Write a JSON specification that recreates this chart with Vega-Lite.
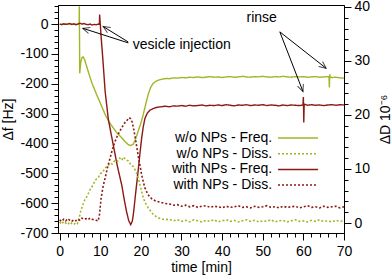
{
"$schema":"https://vega.github.io/schema/vega-lite/v6.json",
"width":286,"height":228,
"autosize":{"type":"none"},
"padding":{"left":58,"top":5,"right":48,"bottom":44},
"config":{
 "font":"Liberation Sans",
 "view":{"stroke":"black","strokeWidth":1},
 "axis":{"labelFont":"Liberation Sans","labelFontSize":14,"titleFont":"Liberation Sans","titleFontSize":14,"titleFontWeight":"normal","labelColor":"black","titleColor":"black","domainColor":"black","tickColor":"black","grid":false,"labelOverlap":false,"labelFlush":false},
 "legend":{"orient":"none","legendX":233,"legendY":126,"title":null,"labelAlign":"right","labelOffset":-32.75,"symbolType":"M-34.5,0M-5,0L5,0","symbolSize":64,"symbolStrokeWidth":1.5,"labelFontSize":14,"labelFont":"Liberation Sans","labelColor":"black","rowPadding":1.7,"padding":0,"labelLimit":0}
},
"datasets":{
"freq":[
{"t":0,"f":0,"s":"w/o NPs - Freq."},{"t":1,"f":-1,"s":"w/o NPs - Freq."},{"t":2,"f":1,"s":"w/o NPs - Freq."},{"t":3,"f":0,"s":"w/o NPs - Freq."},{"t":4,"f":-1,"s":"w/o NPs - Freq."},{"t":4.8,"f":0,"s":"w/o NPs - Freq."},{"t":4.85,"f":60,"s":"w/o NPs - Freq."},{"t":4.95,"f":-165,"s":"w/o NPs - Freq."},{"t":5.2,"f":-128,"s":"w/o NPs - Freq."},{"t":5.5,"f":-112,"s":"w/o NPs - Freq."},{"t":5.8,"f":-110,"s":"w/o NPs - Freq."},{"t":6.2,"f":-121,"s":"w/o NPs - Freq."},{"t":6.6,"f":-139,"s":"w/o NPs - Freq."},{"t":7.0,"f":-157,"s":"w/o NPs - Freq."},{"t":7.5,"f":-179,"s":"w/o NPs - Freq."},{"t":8.0,"f":-199,"s":"w/o NPs - Freq."},{"t":8.5,"f":-216,"s":"w/o NPs - Freq."},{"t":9.1,"f":-236,"s":"w/o NPs - Freq."},{"t":10.0,"f":-264,"s":"w/o NPs - Freq."},{"t":11.2,"f":-303,"s":"w/o NPs - Freq."},{"t":12.2,"f":-328,"s":"w/o NPs - Freq."},{"t":13.2,"f":-348,"s":"w/o NPs - Freq."},{"t":14.2,"f":-366,"s":"w/o NPs - Freq."},{"t":15.3,"f":-381,"s":"w/o NPs - Freq."},{"t":16.2,"f":-395,"s":"w/o NPs - Freq."},{"t":16.9,"f":-404,"s":"w/o NPs - Freq."},{"t":17.5,"f":-407,"s":"w/o NPs - Freq."},{"t":18.1,"f":-403,"s":"w/o NPs - Freq."},{"t":18.7,"f":-385,"s":"w/o NPs - Freq."},{"t":19.3,"f":-360,"s":"w/o NPs - Freq."},{"t":20.0,"f":-332,"s":"w/o NPs - Freq."},{"t":20.6,"f":-302,"s":"w/o NPs - Freq."},{"t":21.2,"f":-268,"s":"w/o NPs - Freq."},{"t":21.8,"f":-236,"s":"w/o NPs - Freq."},{"t":22.4,"f":-212,"s":"w/o NPs - Freq."},{"t":23.0,"f":-199,"s":"w/o NPs - Freq."},{"t":23.8,"f":-191,"s":"w/o NPs - Freq."},{"t":24.7,"f":-186,"s":"w/o NPs - Freq."},{"t":25.5,"f":-184,"s":"w/o NPs - Freq."},{"t":26.3,"f":-182,"s":"w/o NPs - Freq."},{"t":27,"f":-183,"s":"w/o NPs - Freq."},{"t":28,"f":-180,"s":"w/o NPs - Freq."},{"t":29,"f":-181,"s":"w/o NPs - Freq."},{"t":30,"f":-179,"s":"w/o NPs - Freq."},{"t":31,"f":-180,"s":"w/o NPs - Freq."},{"t":32,"f":-178,"s":"w/o NPs - Freq."},{"t":33,"f":-179,"s":"w/o NPs - Freq."},{"t":34,"f":-177,"s":"w/o NPs - Freq."},{"t":35,"f":-179,"s":"w/o NPs - Freq."},{"t":36,"f":-178,"s":"w/o NPs - Freq."},{"t":37,"f":-176,"s":"w/o NPs - Freq."},{"t":38,"f":-178,"s":"w/o NPs - Freq."},{"t":39,"f":-177,"s":"w/o NPs - Freq."},{"t":40,"f":-179,"s":"w/o NPs - Freq."},{"t":41,"f":-177,"s":"w/o NPs - Freq."},{"t":42,"f":-176,"s":"w/o NPs - Freq."},{"t":43,"f":-178,"s":"w/o NPs - Freq."},{"t":44,"f":-177,"s":"w/o NPs - Freq."},{"t":45,"f":-175,"s":"w/o NPs - Freq."},{"t":46,"f":-177,"s":"w/o NPs - Freq."},{"t":47,"f":-178,"s":"w/o NPs - Freq."},{"t":48,"f":-176,"s":"w/o NPs - Freq."},{"t":49,"f":-177,"s":"w/o NPs - Freq."},{"t":50,"f":-175,"s":"w/o NPs - Freq."},{"t":51,"f":-177,"s":"w/o NPs - Freq."},{"t":52,"f":-178,"s":"w/o NPs - Freq."},{"t":53,"f":-176,"s":"w/o NPs - Freq."},{"t":54,"f":-177,"s":"w/o NPs - Freq."},{"t":55,"f":-175,"s":"w/o NPs - Freq."},{"t":56,"f":-177,"s":"w/o NPs - Freq."},{"t":57,"f":-178,"s":"w/o NPs - Freq."},{"t":58,"f":-176,"s":"w/o NPs - Freq."},{"t":59,"f":-177,"s":"w/o NPs - Freq."},{"t":60,"f":-176,"s":"w/o NPs - Freq."},{"t":61,"f":-178,"s":"w/o NPs - Freq."},{"t":62,"f":-177,"s":"w/o NPs - Freq."},{"t":63,"f":-176,"s":"w/o NPs - Freq."},{"t":64,"f":-178,"s":"w/o NPs - Freq."},{"t":65,"f":-177,"s":"w/o NPs - Freq."},{"t":66,"f":-176,"s":"w/o NPs - Freq."},{"t":66.3,"f":-177,"s":"w/o NPs - Freq."},{"t":66.4,"f":-212,"s":"w/o NPs - Freq."},{"t":66.5,"f":-168,"s":"w/o NPs - Freq."},{"t":66.6,"f":-178,"s":"w/o NPs - Freq."},{"t":67,"f":-179,"s":"w/o NPs - Freq."},{"t":68,"f":-178,"s":"w/o NPs - Freq."},{"t":69,"f":-180,"s":"w/o NPs - Freq."},{"t":70,"f":-181,"s":"w/o NPs - Freq."},
{"t":0,"f":0,"s":"with NPs - Freq."},{"t":0.5,"f":-2,"s":"with NPs - Freq."},{"t":1,"f":1,"s":"with NPs - Freq."},{"t":1.5,"f":-1,"s":"with NPs - Freq."},{"t":2,"f":0,"s":"with NPs - Freq."},{"t":2.5,"f":2,"s":"with NPs - Freq."},{"t":3,"f":-1,"s":"with NPs - Freq."},{"t":3.5,"f":1,"s":"with NPs - Freq."},{"t":4,"f":-2,"s":"with NPs - Freq."},{"t":4.5,"f":0,"s":"with NPs - Freq."},{"t":5,"f":3,"s":"with NPs - Freq."},{"t":5.5,"f":0,"s":"with NPs - Freq."},{"t":6,"f":2,"s":"with NPs - Freq."},{"t":6.5,"f":-1,"s":"with NPs - Freq."},{"t":7,"f":-2,"s":"with NPs - Freq."},{"t":7.5,"f":0,"s":"with NPs - Freq."},{"t":8,"f":-3,"s":"with NPs - Freq."},{"t":8.5,"f":-1,"s":"with NPs - Freq."},{"t":9,"f":-2,"s":"with NPs - Freq."},{"t":9.5,"f":0,"s":"with NPs - Freq."},{"t":9.8,"f":-1,"s":"with NPs - Freq."},{"t":9.85,"f":32,"s":"with NPs - Freq."},{"t":10.2,"f":-40,"s":"with NPs - Freq."},{"t":10.6,"f":-110,"s":"with NPs - Freq."},{"t":11.2,"f":-225,"s":"with NPs - Freq."},{"t":12.0,"f":-320,"s":"with NPs - Freq."},{"t":13.2,"f":-405,"s":"with NPs - Freq."},{"t":14.2,"f":-475,"s":"with NPs - Freq."},{"t":15.3,"f":-540,"s":"with NPs - Freq."},{"t":16.0,"f":-595,"s":"with NPs - Freq."},{"t":16.5,"f":-630,"s":"with NPs - Freq."},{"t":17.0,"f":-658,"s":"with NPs - Freq."},{"t":17.5,"f":-672,"s":"with NPs - Freq."},{"t":17.9,"f":-660,"s":"with NPs - Freq."},{"t":18.2,"f":-632,"s":"with NPs - Freq."},{"t":18.7,"f":-568,"s":"with NPs - Freq."},{"t":19.3,"f":-495,"s":"with NPs - Freq."},{"t":19.8,"f":-430,"s":"with NPs - Freq."},{"t":20.2,"f":-381,"s":"with NPs - Freq."},{"t":20.6,"f":-343,"s":"with NPs - Freq."},{"t":21.0,"f":-316,"s":"with NPs - Freq."},{"t":21.6,"f":-298,"s":"with NPs - Freq."},{"t":22.2,"f":-289,"s":"with NPs - Freq."},{"t":23.0,"f":-283,"s":"with NPs - Freq."},{"t":23.9,"f":-279,"s":"with NPs - Freq."},{"t":25,"f":-277,"s":"with NPs - Freq."},{"t":26,"f":-275,"s":"with NPs - Freq."},{"t":27,"f":-277,"s":"with NPs - Freq."},{"t":28,"f":-274,"s":"with NPs - Freq."},{"t":29,"f":-275,"s":"with NPs - Freq."},{"t":30,"f":-273,"s":"with NPs - Freq."},{"t":31,"f":-275,"s":"with NPs - Freq."},{"t":32,"f":-272,"s":"with NPs - Freq."},{"t":33,"f":-274,"s":"with NPs - Freq."},{"t":34,"f":-273,"s":"with NPs - Freq."},{"t":35,"f":-271,"s":"with NPs - Freq."},{"t":36,"f":-274,"s":"with NPs - Freq."},{"t":37,"f":-272,"s":"with NPs - Freq."},{"t":38,"f":-273,"s":"with NPs - Freq."},{"t":39,"f":-271,"s":"with NPs - Freq."},{"t":40,"f":-273,"s":"with NPs - Freq."},{"t":41,"f":-270,"s":"with NPs - Freq."},{"t":42,"f":-272,"s":"with NPs - Freq."},{"t":43,"f":-274,"s":"with NPs - Freq."},{"t":44,"f":-271,"s":"with NPs - Freq."},{"t":45,"f":-272,"s":"with NPs - Freq."},{"t":46,"f":-270,"s":"with NPs - Freq."},{"t":47,"f":-273,"s":"with NPs - Freq."},{"t":48,"f":-271,"s":"with NPs - Freq."},{"t":49,"f":-272,"s":"with NPs - Freq."},{"t":50,"f":-270,"s":"with NPs - Freq."},{"t":51,"f":-273,"s":"with NPs - Freq."},{"t":52,"f":-271,"s":"with NPs - Freq."},{"t":53,"f":-272,"s":"with NPs - Freq."},{"t":54,"f":-274,"s":"with NPs - Freq."},{"t":55,"f":-271,"s":"with NPs - Freq."},{"t":56,"f":-273,"s":"with NPs - Freq."},{"t":57,"f":-271,"s":"with NPs - Freq."},{"t":58,"f":-272,"s":"with NPs - Freq."},{"t":59,"f":-273,"s":"with NPs - Freq."},{"t":59.9,"f":-271,"s":"with NPs - Freq."},{"t":60.0,"f":-244,"s":"with NPs - Freq."},{"t":60.1,"f":-330,"s":"with NPs - Freq."},{"t":60.2,"f":-268,"s":"with NPs - Freq."},{"t":61,"f":-272,"s":"with NPs - Freq."},{"t":62,"f":-270,"s":"with NPs - Freq."},{"t":63,"f":-272,"s":"with NPs - Freq."},{"t":64,"f":-271,"s":"with NPs - Freq."},{"t":65,"f":-273,"s":"with NPs - Freq."},{"t":66,"f":-271,"s":"with NPs - Freq."},{"t":67,"f":-270,"s":"with NPs - Freq."},{"t":68,"f":-272,"s":"with NPs - Freq."},{"t":69,"f":-270,"s":"with NPs - Freq."},{"t":70,"f":-271,"s":"with NPs - Freq."}
],
"diss":[
{"t":0,"D":0.2,"s":"w/o NPs - Diss."},{"t":0.5,"D":-0.2,"s":"w/o NPs - Diss."},{"t":1,"D":0.3,"s":"w/o NPs - Diss."},{"t":1.5,"D":0,"s":"w/o NPs - Diss."},{"t":2,"D":-0.3,"s":"w/o NPs - Diss."},{"t":2.5,"D":0.2,"s":"w/o NPs - Diss."},{"t":3,"D":-0.1,"s":"w/o NPs - Diss."},{"t":3.5,"D":-0.3,"s":"w/o NPs - Diss."},{"t":4,"D":0.1,"s":"w/o NPs - Diss."},{"t":4.4,"D":-0.1,"s":"w/o NPs - Diss."},{"t":4.8,"D":0.9,"s":"w/o NPs - Diss."},{"t":5.2,"D":2.2,"s":"w/o NPs - Diss."},{"t":5.6,"D":3.1,"s":"w/o NPs - Diss."},{"t":6.2,"D":4.3,"s":"w/o NPs - Diss."},{"t":6.8,"D":5.0,"s":"w/o NPs - Diss."},{"t":7.5,"D":6.2,"s":"w/o NPs - Diss."},{"t":8.2,"D":7.0,"s":"w/o NPs - Diss."},{"t":8.7,"D":7.8,"s":"w/o NPs - Diss."},{"t":9.1,"D":8.2,"s":"w/o NPs - Diss."},{"t":9.6,"D":8.5,"s":"w/o NPs - Diss."},{"t":10,"D":9.1,"s":"w/o NPs - Diss."},{"t":10.6,"D":9.4,"s":"w/o NPs - Diss."},{"t":11.2,"D":10.2,"s":"w/o NPs - Diss."},{"t":11.8,"D":10.5,"s":"w/o NPs - Diss."},{"t":12.4,"D":11.1,"s":"w/o NPs - Diss."},{"t":13.0,"D":10.9,"s":"w/o NPs - Diss."},{"t":13.6,"D":11.6,"s":"w/o NPs - Diss."},{"t":14.2,"D":11.4,"s":"w/o NPs - Diss."},{"t":14.8,"D":12.0,"s":"w/o NPs - Diss."},{"t":15.3,"D":11.6,"s":"w/o NPs - Diss."},{"t":15.7,"D":12.2,"s":"w/o NPs - Diss."},{"t":16.3,"D":11.7,"s":"w/o NPs - Diss."},{"t":16.9,"D":11.5,"s":"w/o NPs - Diss."},{"t":17.5,"D":10.8,"s":"w/o NPs - Diss."},{"t":18.1,"D":10.5,"s":"w/o NPs - Diss."},{"t":18.6,"D":9.8,"s":"w/o NPs - Diss."},{"t":19.0,"D":9.1,"s":"w/o NPs - Diss."},{"t":19.4,"D":8.2,"s":"w/o NPs - Diss."},{"t":19.8,"D":7.0,"s":"w/o NPs - Diss."},{"t":20.2,"D":5.8,"s":"w/o NPs - Diss."},{"t":20.6,"D":4.6,"s":"w/o NPs - Diss."},{"t":21.2,"D":3.6,"s":"w/o NPs - Diss."},{"t":21.8,"D":2.8,"s":"w/o NPs - Diss."},{"t":22.3,"D":2.3,"s":"w/o NPs - Diss."},{"t":22.8,"D":1.8,"s":"w/o NPs - Diss."},{"t":23.4,"D":1.4,"s":"w/o NPs - Diss."},{"t":23.9,"D":1.1,"s":"w/o NPs - Diss."},{"t":24.5,"D":0.9,"s":"w/o NPs - Diss."},{"t":25,"D":0.8,"s":"w/o NPs - Diss."},{"t":26,"D":0.6,"s":"w/o NPs - Diss."},{"t":27,"D":0.7,"s":"w/o NPs - Diss."},{"t":28,"D":0.4,"s":"w/o NPs - Diss."},{"t":29,"D":0.6,"s":"w/o NPs - Diss."},{"t":30,"D":0.3,"s":"w/o NPs - Diss."},{"t":31,"D":0.5,"s":"w/o NPs - Diss."},{"t":32,"D":0.2,"s":"w/o NPs - Diss."},{"t":33,"D":0.6,"s":"w/o NPs - Diss."},{"t":34,"D":0.4,"s":"w/o NPs - Diss."},{"t":35,"D":0.2,"s":"w/o NPs - Diss."},{"t":36,"D":0.5,"s":"w/o NPs - Diss."},{"t":37,"D":0.3,"s":"w/o NPs - Diss."},{"t":38,"D":0.6,"s":"w/o NPs - Diss."},{"t":39,"D":0.2,"s":"w/o NPs - Diss."},{"t":40,"D":0.4,"s":"w/o NPs - Diss."},{"t":41,"D":0.6,"s":"w/o NPs - Diss."},{"t":42,"D":0.3,"s":"w/o NPs - Diss."},{"t":43,"D":0.5,"s":"w/o NPs - Diss."},{"t":44,"D":0.2,"s":"w/o NPs - Diss."},{"t":45,"D":0.4,"s":"w/o NPs - Diss."},{"t":46,"D":0.6,"s":"w/o NPs - Diss."},{"t":47,"D":0.3,"s":"w/o NPs - Diss."},{"t":48,"D":0.5,"s":"w/o NPs - Diss."},{"t":49,"D":0.2,"s":"w/o NPs - Diss."},{"t":50,"D":0.4,"s":"w/o NPs - Diss."},{"t":51,"D":0.3,"s":"w/o NPs - Diss."},{"t":52,"D":0.6,"s":"w/o NPs - Diss."},{"t":53,"D":0.2,"s":"w/o NPs - Diss."},{"t":54,"D":0.4,"s":"w/o NPs - Diss."},{"t":55,"D":0.5,"s":"w/o NPs - Diss."},{"t":56,"D":0.2,"s":"w/o NPs - Diss."},{"t":57,"D":0.4,"s":"w/o NPs - Diss."},{"t":58,"D":0.6,"s":"w/o NPs - Diss."},{"t":59,"D":0.3,"s":"w/o NPs - Diss."},{"t":60,"D":0.4,"s":"w/o NPs - Diss."},{"t":61,"D":0.2,"s":"w/o NPs - Diss."},{"t":62,"D":0.5,"s":"w/o NPs - Diss."},{"t":63,"D":0.3,"s":"w/o NPs - Diss."},{"t":64,"D":0.6,"s":"w/o NPs - Diss."},{"t":65,"D":0.3,"s":"w/o NPs - Diss."},{"t":66,"D":0.4,"s":"w/o NPs - Diss."},{"t":67,"D":0.2,"s":"w/o NPs - Diss."},{"t":68,"D":0.5,"s":"w/o NPs - Diss."},{"t":69,"D":0.3,"s":"w/o NPs - Diss."},{"t":70,"D":0.4,"s":"w/o NPs - Diss."},
{"t":0,"D":0.6,"s":"with NPs - Diss."},{"t":0.5,"D":0.3,"s":"with NPs - Diss."},{"t":1,"D":0.7,"s":"with NPs - Diss."},{"t":1.5,"D":0.4,"s":"with NPs - Diss."},{"t":2,"D":0.8,"s":"with NPs - Diss."},{"t":2.5,"D":0.5,"s":"with NPs - Diss."},{"t":3,"D":0.3,"s":"with NPs - Diss."},{"t":3.5,"D":0.6,"s":"with NPs - Diss."},{"t":4,"D":0.4,"s":"with NPs - Diss."},{"t":4.5,"D":0.7,"s":"with NPs - Diss."},{"t":5,"D":0.5,"s":"with NPs - Diss."},{"t":5.5,"D":0.9,"s":"with NPs - Diss."},{"t":6,"D":0.7,"s":"with NPs - Diss."},{"t":6.5,"D":0.8,"s":"with NPs - Diss."},{"t":7,"D":0.6,"s":"with NPs - Diss."},{"t":7.5,"D":0.9,"s":"with NPs - Diss."},{"t":8,"D":0.7,"s":"with NPs - Diss."},{"t":8.5,"D":0.6,"s":"with NPs - Diss."},{"t":9,"D":0.5,"s":"with NPs - Diss."},{"t":9.5,"D":0.4,"s":"with NPs - Diss."},{"t":9.8,"D":1.5,"s":"with NPs - Diss."},{"t":10.2,"D":4.5,"s":"with NPs - Diss."},{"t":10.7,"D":6.8,"s":"with NPs - Diss."},{"t":11.2,"D":8.3,"s":"with NPs - Diss."},{"t":11.8,"D":10.3,"s":"with NPs - Diss."},{"t":12.4,"D":12.0,"s":"with NPs - Diss."},{"t":13.0,"D":13.6,"s":"with NPs - Diss."},{"t":13.6,"D":15.0,"s":"with NPs - Diss."},{"t":14.2,"D":16.1,"s":"with NPs - Diss."},{"t":14.8,"D":17.0,"s":"with NPs - Diss."},{"t":15.5,"D":17.9,"s":"with NPs - Diss."},{"t":16.1,"D":18.6,"s":"with NPs - Diss."},{"t":16.7,"D":19.1,"s":"with NPs - Diss."},{"t":17.1,"D":19.5,"s":"with NPs - Diss."},{"t":17.5,"D":19.3,"s":"with NPs - Diss."},{"t":17.9,"D":18.6,"s":"with NPs - Diss."},{"t":18.5,"D":16.3,"s":"with NPs - Diss."},{"t":18.9,"D":14.5,"s":"with NPs - Diss."},{"t":19.3,"D":12.6,"s":"with NPs - Diss."},{"t":19.8,"D":10.6,"s":"with NPs - Diss."},{"t":20.2,"D":8.9,"s":"with NPs - Diss."},{"t":20.6,"D":7.6,"s":"with NPs - Diss."},{"t":21.0,"D":6.5,"s":"with NPs - Diss."},{"t":21.6,"D":5.5,"s":"with NPs - Diss."},{"t":22.2,"D":4.8,"s":"with NPs - Diss."},{"t":23.0,"D":4.3,"s":"with NPs - Diss."},{"t":23.9,"D":4.0,"s":"with NPs - Diss."},{"t":25,"D":3.8,"s":"with NPs - Diss."},{"t":26,"D":3.6,"s":"with NPs - Diss."},{"t":27.1,"D":3.5,"s":"with NPs - Diss."},{"t":28,"D":3.3,"s":"with NPs - Diss."},{"t":29,"D":3.4,"s":"with NPs - Diss."},{"t":30,"D":3.1,"s":"with NPs - Diss."},{"t":31,"D":3.3,"s":"with NPs - Diss."},{"t":32,"D":3.0,"s":"with NPs - Diss."},{"t":33,"D":3.2,"s":"with NPs - Diss."},{"t":34,"D":2.9,"s":"with NPs - Diss."},{"t":35,"D":3.1,"s":"with NPs - Diss."},{"t":36,"D":3.2,"s":"with NPs - Diss."},{"t":37,"D":2.9,"s":"with NPs - Diss."},{"t":38,"D":3.1,"s":"with NPs - Diss."},{"t":39,"D":3.0,"s":"with NPs - Diss."},{"t":40,"D":2.8,"s":"with NPs - Diss."},{"t":41,"D":3.1,"s":"with NPs - Diss."},{"t":42,"D":2.9,"s":"with NPs - Diss."},{"t":43,"D":3.0,"s":"with NPs - Diss."},{"t":44,"D":3.2,"s":"with NPs - Diss."},{"t":45,"D":2.9,"s":"with NPs - Diss."},{"t":46,"D":3.0,"s":"with NPs - Diss."},{"t":47,"D":2.8,"s":"with NPs - Diss."},{"t":48,"D":3.1,"s":"with NPs - Diss."},{"t":49,"D":2.9,"s":"with NPs - Diss."},{"t":50,"D":3.0,"s":"with NPs - Diss."},{"t":51,"D":3.2,"s":"with NPs - Diss."},{"t":52,"D":2.9,"s":"with NPs - Diss."},{"t":53,"D":3.0,"s":"with NPs - Diss."},{"t":54,"D":2.8,"s":"with NPs - Diss."},{"t":55,"D":3.1,"s":"with NPs - Diss."},{"t":56,"D":2.9,"s":"with NPs - Diss."},{"t":57,"D":3.0,"s":"with NPs - Diss."},{"t":58,"D":3.1,"s":"with NPs - Diss."},{"t":59,"D":2.8,"s":"with NPs - Diss."},{"t":60,"D":3.0,"s":"with NPs - Diss."},{"t":61,"D":3.2,"s":"with NPs - Diss."},{"t":62,"D":2.9,"s":"with NPs - Diss."},{"t":63,"D":3.0,"s":"with NPs - Diss."},{"t":64,"D":2.8,"s":"with NPs - Diss."},{"t":65,"D":3.1,"s":"with NPs - Diss."},{"t":66,"D":2.9,"s":"with NPs - Diss."},{"t":67,"D":3.0,"s":"with NPs - Diss."},{"t":68,"D":3.1,"s":"with NPs - Diss."},{"t":69,"D":2.8,"s":"with NPs - Diss."},{"t":70,"D":3.0,"s":"with NPs - Diss."}
],
"arrows":[
{"id":"a","t":16.9,"f":-63,"t2":5.7,"f2":-14},
{"id":"b","t":16.9,"f":-60,"t2":10.7,"f2":-8},
{"id":"c","t":54.2,"f":-26,"t2":65.6,"f2":-148},
{"id":"d","t":54.2,"f":-26,"t2":59.9,"f2":-226}
],
"notes":[
{"t":18.0,"f":-70,"text":"vesicle injection"},
{"t":46.0,"f":20,"text":"rinse"}
]
},
"layer":[
 {"data":{"name":"freq"},"mark":{"type":"line","strokeWidth":1.4},
  "encoding":{
   "x":{"field":"t","type":"quantitative","scale":{"domain":[-0.4,70],"nice":false,"zero":false},
     "axis":{"title":"time [min]","values":[0,2,4,6,8,10,12,14,16,18,20,22,24,26,28,30,32,34,36,38,40,42,44,46,48,50,52,54,56,58,60,62,64,66,68,70],
       "labelExpr":"datum.value % 10 === 0 ? datum.label : ''","labelOverlap":false,
       "tickSize":{"condition":{"test":"datum.value % 10 === 0","value":7},"value":4},
       "labelPadding":4,"titlePadding":2}},
   "y":{"field":"f","type":"quantitative","scale":{"domain":[-700,64],"nice":false,"zero":false},
     "axis":{"title":"Δf [Hz]","values":[-700,-680,-660,-640,-620,-600,-580,-560,-540,-520,-500,-480,-460,-440,-420,-400,-380,-360,-340,-320,-300,-280,-260,-240,-220,-200,-180,-160,-140,-120,-100,-80,-60,-40,-20,0,20,40,60],
       "labelExpr":"datum.value % 100 === 0 ? (datum.value < 0 ? '-' : '') + abs(datum.value) : ''","labelOverlap":false,
       "tickSize":{"condition":{"test":"datum.value % 100 === 0","value":7},"value":4},
       "labelPadding":3,"titlePadding":4}},
   "color":{"field":"s","type":"nominal","scale":{"domain":["w/o NPs - Freq.","w/o NPs - Diss.","with NPs - Freq.","with NPs - Diss."],"range":["#a3b526","#a3b526","#8b1a14","#8b1a14"]}},
   "strokeDash":{"field":"s","type":"nominal","scale":{"domain":["w/o NPs - Freq.","w/o NPs - Diss.","with NPs - Freq.","with NPs - Diss."],"range":[[1,0],[2,2],[1,0],[2,2]]}}
  }},
 {"data":{"name":"arrows"},"mark":{"type":"rule","color":"black","strokeWidth":1},
  "encoding":{"x":{"field":"t","type":"quantitative","axis":null},"y":{"field":"f","type":"quantitative","scale":{"domain":[-700,64],"nice":false,"zero":false},"axis":null},"x2":{"field":"t2"},"y2":{"field":"f2"}}},
 {"data":{"name":"arrows"},"transform":[{"filter":"datum.id === 'a'"}],"mark":{"type":"point","shape":"M-1,-0.45L0,0L-1,0.45","filled":false,"color":"black","strokeWidth":1,"size":196,"angle":198},
  "encoding":{"x":{"field":"t2","type":"quantitative","axis":null},"y":{"field":"f2","type":"quantitative","scale":{"domain":[-700,64],"nice":false,"zero":false},"axis":null}}},
 {"data":{"name":"arrows"},"transform":[{"filter":"datum.id === 'b'"}],"mark":{"type":"point","shape":"M-1,-0.45L0,0L-1,0.45","filled":false,"color":"black","strokeWidth":1,"size":196,"angle":211.5},
  "encoding":{"x":{"field":"t2","type":"quantitative","axis":null},"y":{"field":"f2","type":"quantitative","scale":{"domain":[-700,64],"nice":false,"zero":false},"axis":null}}},
 {"data":{"name":"arrows"},"transform":[{"filter":"datum.id === 'c'"}],"mark":{"type":"point","shape":"M-1,-0.45L0,0L-1,0.45","filled":false,"color":"black","strokeWidth":1,"size":196,"angle":38.2},
  "encoding":{"x":{"field":"t2","type":"quantitative","axis":null},"y":{"field":"f2","type":"quantitative","scale":{"domain":[-700,64],"nice":false,"zero":false},"axis":null}}},
 {"data":{"name":"arrows"},"transform":[{"filter":"datum.id === 'd'"}],"mark":{"type":"point","shape":"M-1,-0.45L0,0L-1,0.45","filled":false,"color":"black","strokeWidth":1,"size":196,"angle":68.8},
  "encoding":{"x":{"field":"t2","type":"quantitative","axis":null},"y":{"field":"f2","type":"quantitative","scale":{"domain":[-700,64],"nice":false,"zero":false},"axis":null}}},
 {"data":{"name":"notes"},"mark":{"type":"text","align":"left","baseline":"middle","fontSize":14,"font":"Liberation Sans","color":"black"},
  "encoding":{"x":{"field":"t","type":"quantitative","axis":null},"y":{"field":"f","type":"quantitative","scale":{"domain":[-700,64],"nice":false,"zero":false},"axis":null},"text":{"field":"text"}}},
 {"data":{"name":"diss"},"mark":{"type":"line","strokeWidth":1.6},
 "encoding":{
  "x":{"field":"t","type":"quantitative","axis":null},
  "y":{"field":"D","type":"quantitative","scale":{"domain":[-1.85,40.35],"nice":false,"zero":false},
    "axis":{"orient":"right","title":"ΔD 10⁻⁶","titleAngle":-90,"titleBaseline":"top","values":[0,2,4,6,8,10,12,14,16,18,20,22,24,26,28,30,32,34,36,38,40],
      "labelExpr":"datum.value % 10 === 0 ? datum.label : ''","labelOverlap":false,
      "tickSize":{"condition":{"test":"datum.value % 10 === 0","value":7},"value":4},
      "labelPadding":3,"titlePadding":9}},
  "color":{"field":"s","type":"nominal","scale":{"domain":["w/o NPs - Freq.","w/o NPs - Diss.","with NPs - Freq.","with NPs - Diss."],"range":["#a3b526","#a3b526","#8b1a14","#8b1a14"]}},
  "strokeDash":{"field":"s","type":"nominal","scale":{"domain":["w/o NPs - Freq.","w/o NPs - Diss.","with NPs - Freq.","with NPs - Diss."],"range":[[1,0],[2,2],[1,0],[2,2]]}}
 }}
],
"resolve":{"scale":{"y":"independent"},"axis":{"x":"independent","y":"independent"}}
}
